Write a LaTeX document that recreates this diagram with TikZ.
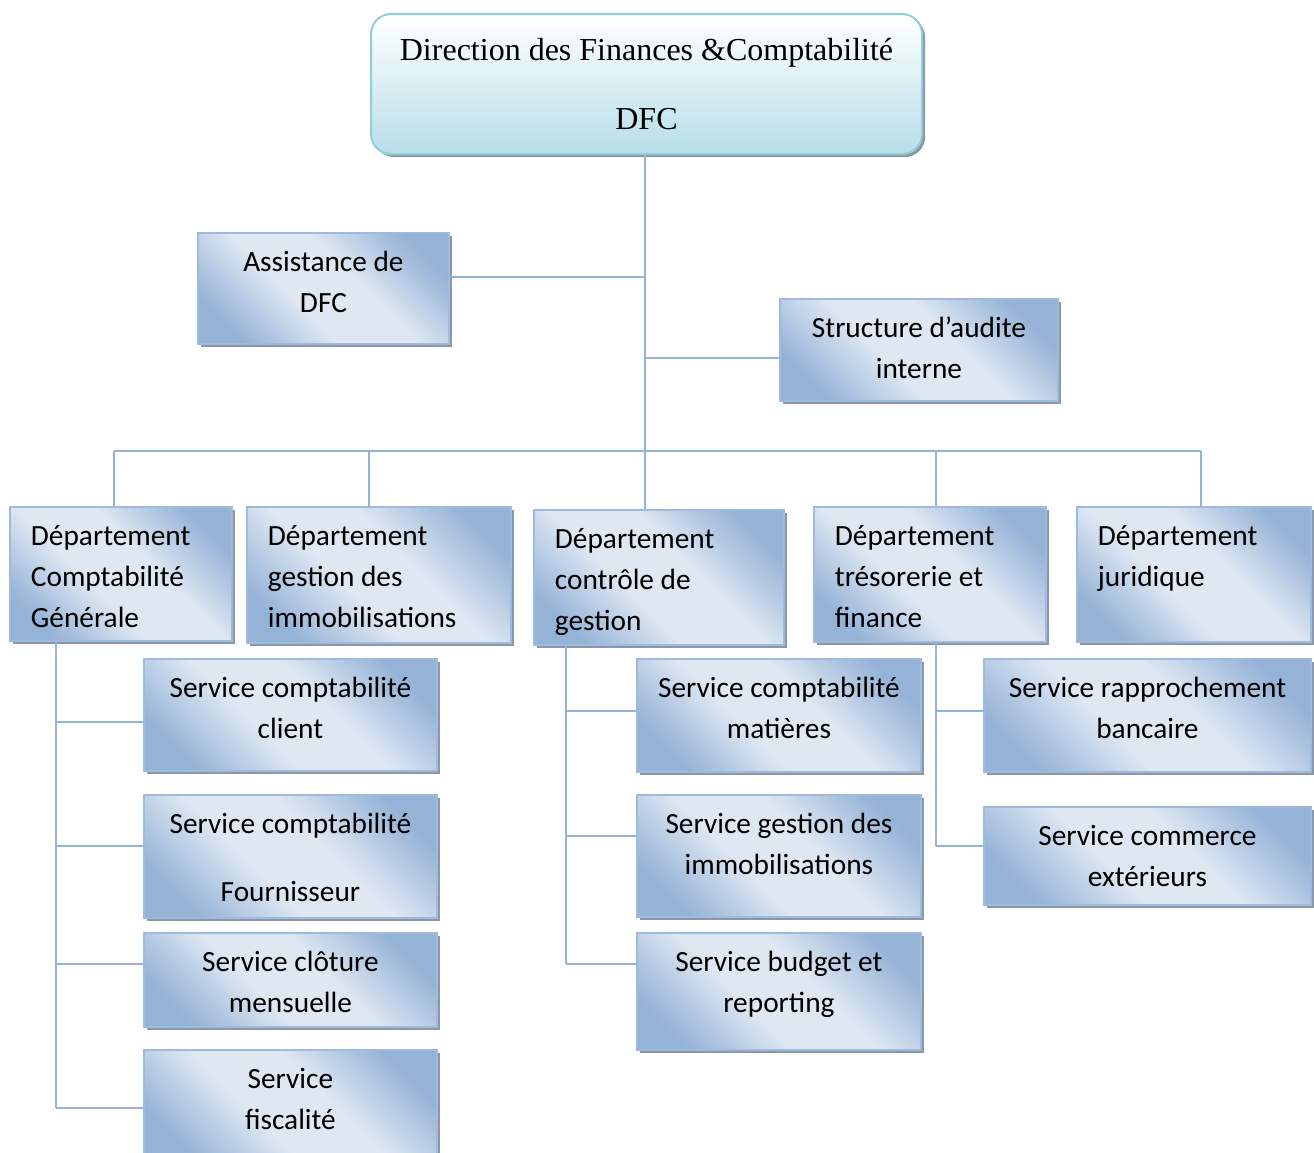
\documentclass[tikz,border=0pt]{standalone}
\usepackage{fontspec}
\setmainfont{Carlito}
\newfontfamily\serifhead{Liberation Serif}
\usetikzlibrary{shadows}

\definecolor{linkc}{RGB}{149,179,215}
\definecolor{bdk}{RGB}{149,179,215}
\definecolor{blt}{RGB}{222,231,242}
\definecolor{bedge}{RGB}{158,187,221}
\definecolor{shadowc}{RGB}{140,152,168}
\definecolor{topedge}{RGB}{146,205,220}
\definecolor{toplow}{RGB}{183,222,232}

% diagonal light band between two darker corners
\pgfdeclareverticalshading{unitshade}{100bp}{color(0bp)=(bdk); color(24bp)=(bdk); color(42bp)=(blt); color(58bp)=(blt); color(76bp)=(bdk); color(100bp)=(bdk)}

% one pixel of the drawing grid
\newlength\px
\setlength\px{0.75pt}

% box contents: width, height (in px), text; text hangs from the top
\newcommand\ctext[3]{\parbox[c][#2\px][t]{#1\px}{\centering\rule{0pt}{29pt}#3\par}}
\newcommand\ltext[3]{\parbox[c][#2\px][t]{#1\px}{\raggedright\leftskip=21\px\rule{0pt}{29pt}#3\par}}

\tikzset{
  unit/.style={draw=bedge, line width=1.4pt, shade, shading=unitshade, shading angle=-45,
    drop shadow={shadow xshift=2.3pt, shadow yshift=-2.3pt, fill=shadowc, opacity=1},
    anchor=north west, inner sep=0pt, font=\fontsize{22}{30.75}\selectfont},
  headbox/.style={draw=topedge, line width=1.5pt, rounded corners=15pt,
    top color=white, bottom color=toplow,
    drop shadow={shadow xshift=2.3pt, shadow yshift=-2.3pt, fill=shadowc, opacity=1},
    anchor=north west, inner sep=0pt, font=\serifhead\fontsize{24}{51.75}\selectfont},
  link/.style={draw=linkc, line width=2pt}
}

\begin{document}
\begin{tikzpicture}[x=0.75pt, y=-0.75pt]
\useasboundingbox (0,0) rectangle (1314,1153);
\clip (0,0) rectangle (1314,1153);

% head of the direction
\node[headbox] (dfc) at (370,13)
  {\parbox[c][140\px][t]{551\px}{\centering\rule{0pt}{34.5pt}Direction des Finances \&Comptabilité\\DFC\par}};

% staff units
\node[unit] (ast) at (197,232) {\ctext{251}{111}{Assistance de\\DFC}};
\node[unit] (aud) at (779,298) {\ctext{278}{102}{Structure d’audite\\interne}};

% departments
\node[unit] (dcg) at (9,506)    {\ltext{222}{134}{Département\\Comptabilité\\Générale}};
\node[unit] (dgi) at (246,506)  {\ltext{264}{136}{Département\\gestion des\\immobilisations}};
\node[unit] (dcx) at (533,509)  {\ltext{250}{135}{Département\\contrôle de\\gestion}};
\node[unit] (dtf) at (813,506)  {\ltext{232}{135}{Département\\trésorerie et\\finance}};
\node[unit] (djr) at (1076,506) {\ltext{234}{135}{Département\\juridique}};

% services of general accounting
\node[unit] (scl) at (143,658)  {\ctext{293}{112}{Service comptabilité\\client}};
\node[unit] (sfo) at (143,794)  {\ctext{293}{123}{Service comptabilité\\[20.25pt]Fournisseur}};
\node[unit] (scm) at (143,932)  {\ctext{293}{94}{Service clôture\\mensuelle}};
\node[unit] (sfi) at (143,1049) {\ctext{293}{112}{Service\\fiscalité}};

% services of management control
\node[unit] (smt) at (636,658)  {\ctext{284}{113}{Service comptabilité\\matières}};
\node[unit] (sgi) at (636,794)  {\ctext{284}{122}{Service gestion des\\immobilisations}};
\node[unit] (sbr) at (636,932)  {\ctext{284}{117}{Service budget et\\reporting}};

% services of treasury
\node[unit] (srb) at (983,658)  {\ctext{327}{113}{Service rapprochement\\bancaire}};
\node[unit] (sce) at (983,806)  {\ctext{327}{98}{Service commerce\\extérieurs}};

% junction points
\coordinate (jast) at (645,277);
\coordinate (jaud) at (645,358);
\coordinate (b1) at (114,451);
\coordinate (b2) at (369,451);
\coordinate (b3) at (645,451);
\coordinate (b4) at (936,451);
\coordinate (b5) at (1201,451);
\coordinate (g1) at (56,722);
\coordinate (g2) at (56,846);
\coordinate (g3) at (56,964);
\coordinate (g4) at (56,1108);
\coordinate (c1) at (566,711);
\coordinate (c2) at (566,836);
\coordinate (c3) at (566,964);
\coordinate (t1) at (936,711);
\coordinate (t2) at (936,846);

% trunk and staff links
\draw[link] (dfc.south -| b3) -- (b3 |- dcx.north);
\draw[link] (jast) -- (jast -| ast.east);
\draw[link] (jaud) -- (jaud -| aud.west);

% department bus
\draw[link] (b1) -- (b5);
\draw[link] (b1) -- (b1 |- dcg.north);
\draw[link] (b2) -- (b2 |- dgi.north);
\draw[link] (b4) -- (b4 |- dtf.north);
\draw[link] (b5) -- (b5 |- djr.north);

% general accounting branch
\draw[link] (g1 |- dcg.south) -- (g4);
\draw[link] (g1) -- (g1 -| scl.west);
\draw[link] (g2) -- (g2 -| sfo.west);
\draw[link] (g3) -- (g3 -| scm.west);
\draw[link] (g4) -- (g4 -| sfi.west);

% management control branch
\draw[link] (c1 |- dcx.south) -- (c3);
\draw[link] (c1) -- (c1 -| smt.west);
\draw[link] (c2) -- (c2 -| sgi.west);
\draw[link] (c3) -- (c3 -| sbr.west);

% treasury branch
\draw[link] (t1 |- dtf.south) -- (t2);
\draw[link] (t1) -- (t1 -| srb.west);
\draw[link] (t2) -- (t2 -| sce.west);
\end{tikzpicture}
\end{document}
